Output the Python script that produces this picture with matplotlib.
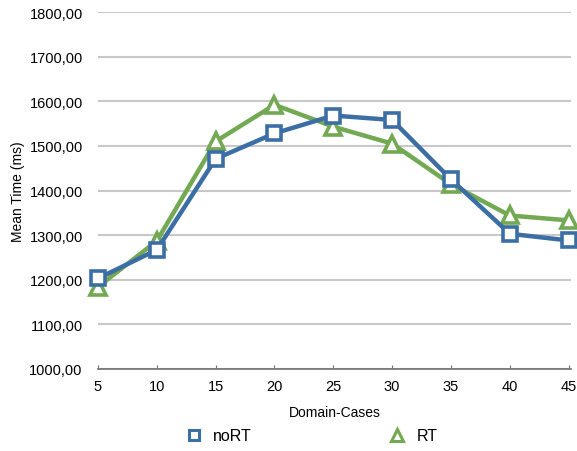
import matplotlib.pyplot as plt
from matplotlib.lines import Line2D
from matplotlib.ticker import FuncFormatter

plt.rcParams['font.family'] = ['Liberation Sans', 'DejaVu Sans']

domain_cases = [5, 10, 15, 20, 25, 30, 35, 40, 45]
no_rt = [1203, 1267, 1471, 1528, 1568, 1558, 1425, 1303, 1288]
rt = [1184, 1287, 1510, 1592, 1543, 1505, 1414, 1344, 1333]

blue = '#3b6ea5'
green = '#72a952'

fig = plt.figure(figsize=(5.77, 4.52), dpi=100)
ax = fig.add_axes([98 / 577, 1 - 370 / 452, (571 - 98) / 577, (370 - 13) / 452])

ax.plot(domain_cases, rt, color=green, lw=3.2, marker='^', markersize=11,
        markerfacecolor='white', markeredgecolor=green, markeredgewidth=2.6,
        clip_on=False, zorder=3)
ax.plot(domain_cases, no_rt, color=blue, lw=3.2, marker='s', markersize=10,
        markerfacecolor='white', markeredgecolor=blue, markeredgewidth=2.6,
        clip_on=False, zorder=4)

ax.set_xlim(5, 45.2)
ax.set_ylim(1000, 1800)
ax.set_xticks(domain_cases)
ax.set_yticks(range(1000, 1801, 100))
ax.yaxis.set_major_formatter(FuncFormatter(lambda v, p: f'{v:.2f}'.replace('.', ',')))

ax.grid(axis='y', color='#c8c8c8', lw=1.5)
ax.set_axisbelow(True)
for s in ['top', 'right', 'left']:
    ax.spines[s].set_visible(False)
ax.spines['bottom'].set_color('#707070')
ax.spines['bottom'].set_linewidth(1.2)
ax.tick_params(axis='y', length=0, labelsize=10.5, pad=11)
ax.tick_params(axis='x', direction='in', length=3, color='#707070', labelsize=10.5, pad=7)

ax.set_xlabel('Domain-Cases', fontsize=10, labelpad=9)
ax.set_ylabel('Mean Time (ms)', fontsize=10)
ax.yaxis.set_label_coords(-0.155, 0.5)

handles = [
    Line2D([], [], ls='none', marker='s', markersize=7, markerfacecolor='white',
           markeredgecolor=blue, markeredgewidth=2.2, label='noRT'),
    Line2D([], [], ls='none', marker='^', markersize=8, markerfacecolor='white',
           markeredgecolor=green, markeredgewidth=2.2, label='RT'),
]
fig.legend(handles=handles, loc='center', bbox_to_anchor=(311 / 577, 1 - 437 / 452),
           ncol=2, frameon=False, fontsize=11.5, columnspacing=8.5, handletextpad=0.6,
           handlelength=1.2)

fig.savefig('out.png', dpi=100)
